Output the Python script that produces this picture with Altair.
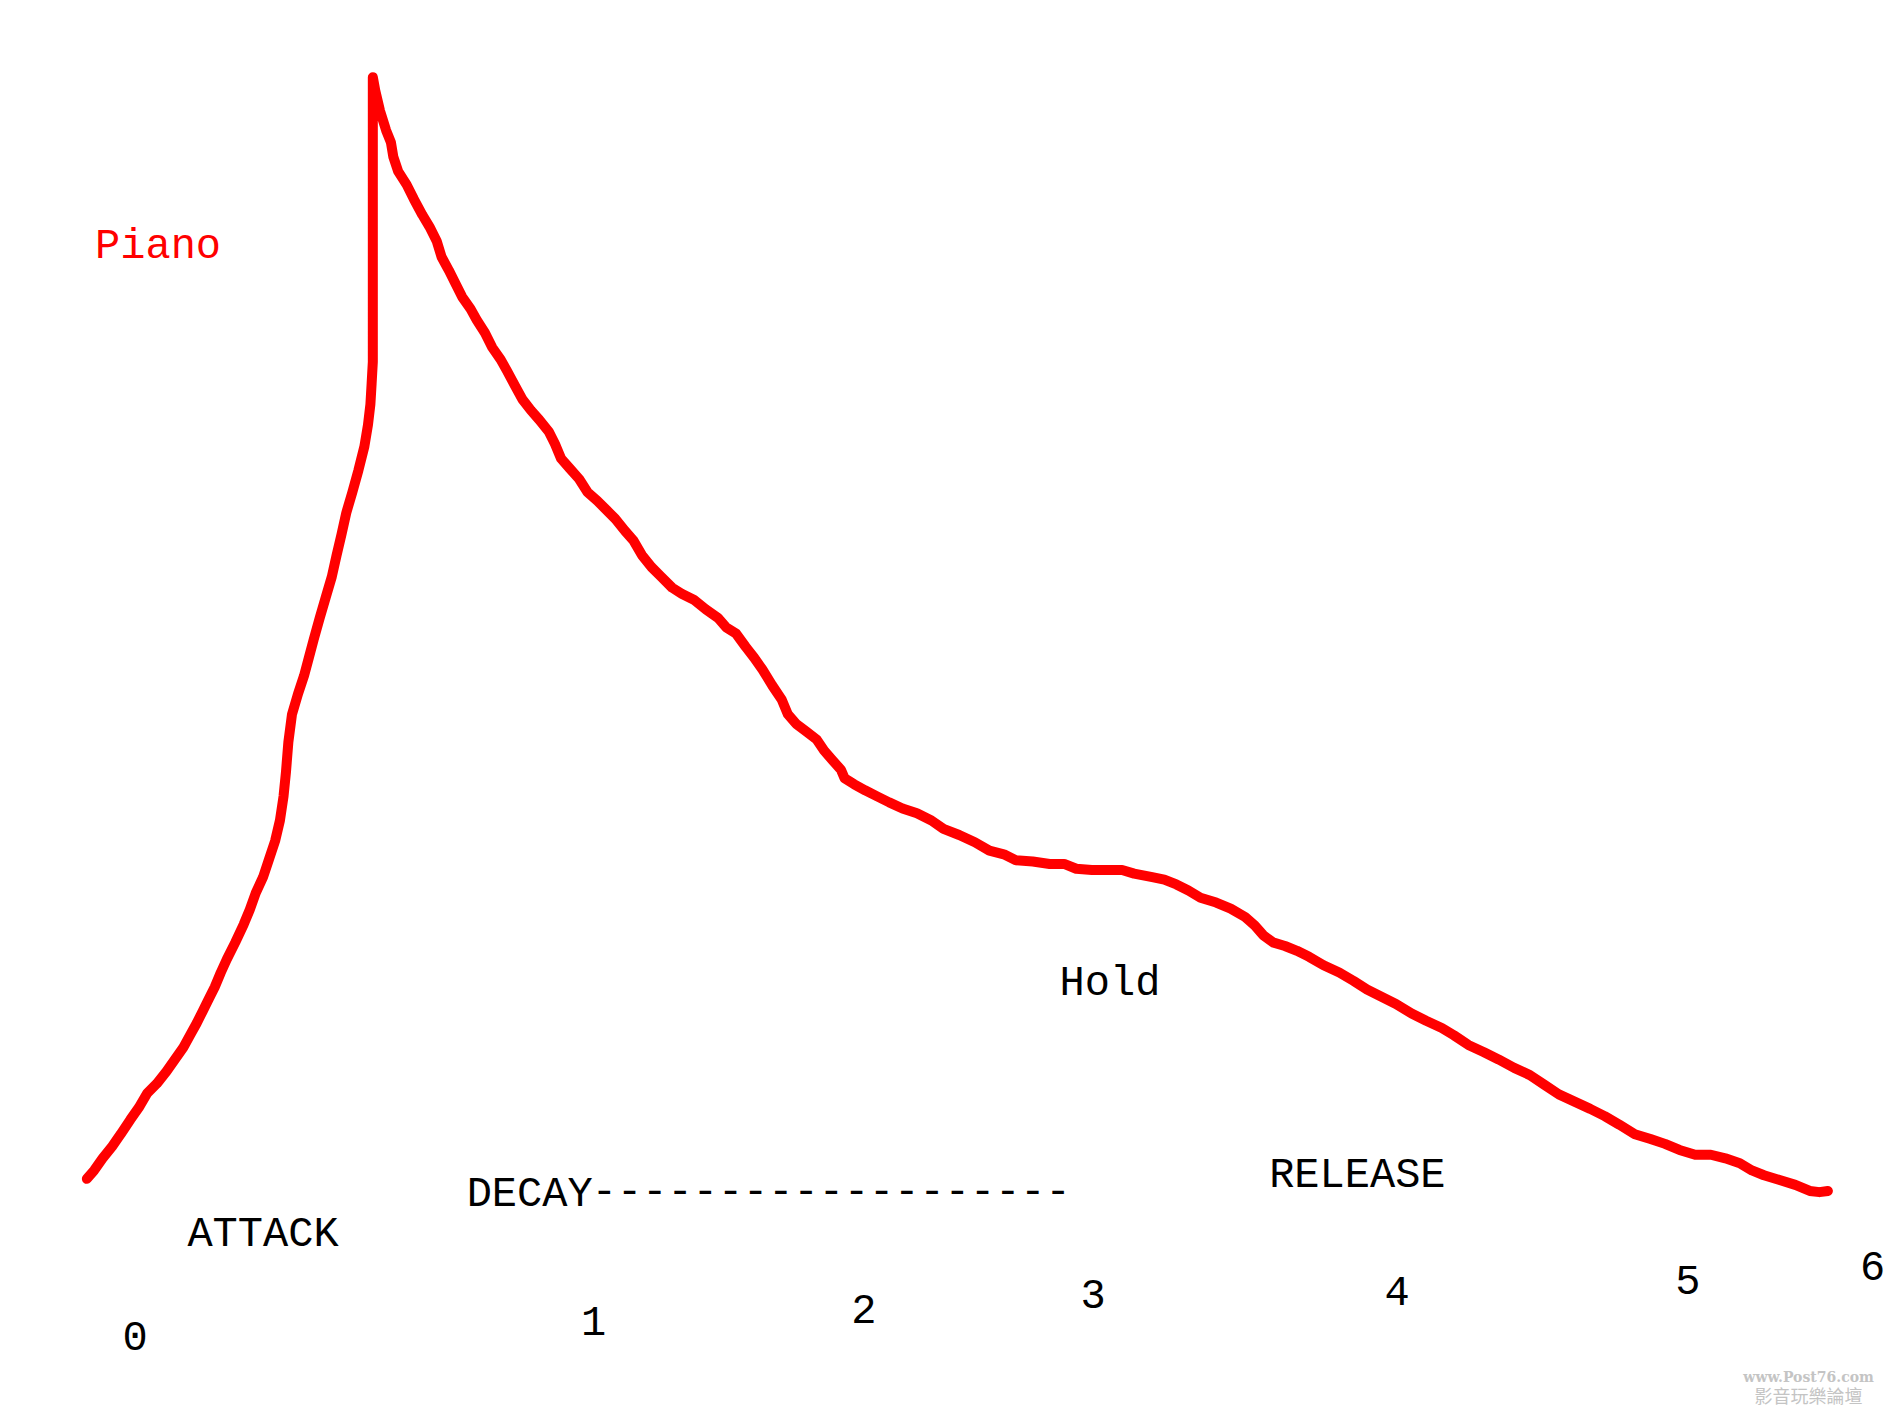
import altair as alt
import pandas as pd

# Envelope curve (x = time position, y = picture row; smaller y = louder)
curve_x = [72, 78, 85, 93, 100, 108, 115, 122, 130, 138, 145, 152, 158, 163, 168, 173, 178, 183, 188, 195,
           202, 207, 212, 218, 223, 228, 232, 235, 237, 239, 242, 247, 252, 256, 260, 265, 270, 275, 279, 283,
           287, 292, 297, 302, 305, 307, 308, 309, 309, 309, 309,
           311, 315, 320, 324, 326, 330, 337, 343, 350, 356, 362, 366, 372, 378, 383, 390, 395, 402, 408, 415,
           420, 427, 433, 440, 447, 455, 460, 465, 472, 480, 487, 495, 503, 510, 518, 525, 532, 540, 548, 557,
           565, 575, 585, 595, 602, 610, 618, 625, 632, 640, 648, 653, 660, 668, 677, 683, 690, 697, 700, 708,
           717, 727, 737, 748, 760, 772, 782, 795, 808, 820, 832, 842, 856, 870, 882, 892, 905, 918, 930, 940,
           955, 965, 975, 985, 995, 1008, 1020, 1032, 1040, 1047, 1055, 1065, 1075, 1085, 1097, 1110, 1122, 1133,
           1145, 1157, 1170, 1182, 1195, 1205, 1217, 1230, 1242, 1255, 1268, 1280, 1292, 1305, 1318, 1330, 1342,
           1355, 1368, 1380, 1392, 1405, 1418, 1430, 1442, 1452, 1462, 1475, 1488, 1500, 1508, 1515]
curve_y = [977, 970, 960, 950, 940, 928, 918, 906, 898, 888, 878, 868, 857, 848, 838, 828, 818, 806, 795, 781,
           766, 754, 740, 727, 712, 697, 680, 660, 640, 615, 592, 575, 560, 545, 530, 512, 495, 478, 460, 443,
           425, 408, 390, 370, 352, 335, 318, 300, 200, 100, 64,
           75, 92, 108, 118, 130, 142, 153, 165, 178, 188, 200, 213, 224, 236, 246, 256, 265, 276, 288, 298,
           307, 320, 331, 340, 348, 358, 368, 380, 388, 397, 408, 415, 423, 430, 440, 448, 460, 470, 478, 487,
           492, 497, 505, 512, 520, 525, 536, 545, 555, 568, 580, 592, 600, 606, 613, 622, 630, 638, 645, 650,
           655, 660, 665, 670, 674, 680, 687, 692, 698, 705, 708, 713, 714, 716, 716, 720, 721, 721, 721, 724,
           727, 729, 733, 738, 744, 748, 753, 760, 767, 775, 781, 784, 788, 793, 800, 806, 813, 820,
           826, 832, 840, 846, 852, 858, 866, 872, 878, 885, 891, 899, 907, 913, 919, 925, 932,
           940, 944, 948, 953, 957, 957, 960, 964, 970, 974, 978, 982, 987, 988, 987]

# Annotation words and their anchor points
word_text = ["ATTACK", "DECAY", "-------------------", "Hold", "RELEASE"]
word_x = [218, 439, 689, 920, 1125]
word_y = [1022, 989, 987, 814, 973]

# Time tick labels (hand placed in the original)
tick_text = ["0", "1", "2", "3", "4", "5", "6"]
tick_x = [112, 492, 716, 906, 1158, 1399, 1552]
tick_y = [1108, 1096, 1086, 1073, 1071, 1062, 1050]

title_text = ["Piano"]
title_x = [131]
title_y = [203]

site_text = ["www.Post76.com"]
site_x = [1499]
site_y = [1142]
forum_text = ["影音玩樂論壇"]
forum_x = [1499]
forum_y = [1159]

curve = pd.DataFrame({"i": list(range(len(curve_x))), "t": curve_x, "v": curve_y})
words = pd.DataFrame({"label": word_text, "t": word_x, "v": word_y})
ticks = pd.DataFrame({"label": tick_text, "t": tick_x, "v": tick_y})
title = pd.DataFrame({"label": title_text, "t": title_x, "v": title_y})
site = pd.DataFrame({"label": site_text, "t": site_x, "v": site_y})
forum = pd.DataFrame({"label": forum_text, "t": forum_x, "v": forum_y})

xs = alt.Scale(domain=[6.63, 1561.5], nice=False, zero=False)
ys = alt.Scale(domain=[6.63, 1166.9], nice=False, zero=False, reverse=True)
X = alt.X("t:Q", scale=xs, axis=None)
Y = alt.Y("v:Q", scale=ys, axis=None)

line = alt.Chart(curve).mark_line(
    color="#ff0000", strokeWidth=10, strokeCap="round", strokeJoin="round"
).encode(x=X, y=Y, order=alt.Order("i:Q"))

font = "Liberation Mono"
word_layer = alt.Chart(words).mark_text(
    font=font, fontSize=42, color="#000000", align="center", baseline="middle"
).encode(x=X, y=Y, text="label:N")

tick_layer = alt.Chart(ticks).mark_text(
    font=font, fontSize=42, color="#000000", align="center", baseline="middle"
).encode(x=X, y=Y, text="label:N")

title_layer = alt.Chart(title).mark_text(
    font=font, fontSize=42, color="#ff0000", align="center", baseline="middle"
).encode(x=X, y=Y, text="label:N")

site_layer = alt.Chart(site).mark_text(
    font="DejaVu Serif", fontSize=14, fontWeight="bold", color="#c4c4c4",
    align="center", baseline="middle"
).encode(x=X, y=Y, text="label:N")

forum_layer = alt.Chart(forum).mark_text(
    font="Noto Sans CJK TC", fontSize=18, color="#c4c4c4",
    align="center", baseline="middle"
).encode(x=X, y=Y, text="label:N")

chart = alt.layer(line, word_layer, tick_layer, title_layer, site_layer, forum_layer).properties(
    width=1876, height=1400, autosize=alt.AutoSizeParams(type="none"), padding=0
).configure(background="#ffffff").configure_view(strokeWidth=0, stroke="transparent")

chart.save("out.html", embed_options={"renderer": "svg", "actions": False})
